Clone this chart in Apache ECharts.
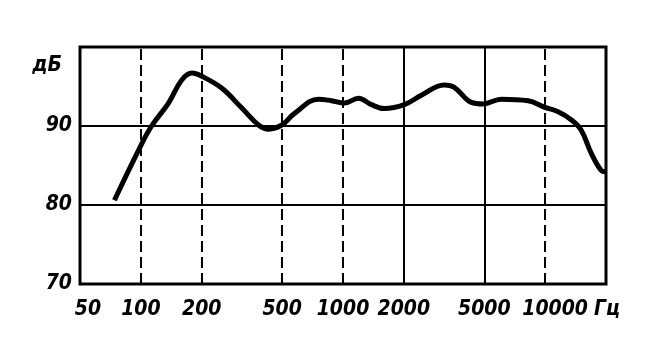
<!DOCTYPE html>
<html><head><meta charset="utf-8">
<script src="https://cdn.jsdelivr.net/npm/echarts@6/dist/echarts.min.js"></script>
<style>html,body{margin:0;padding:0;background:#fff}#c{width:656px;height:350px}</style>
</head><body><div id="c"></div>
<script>
// Frequency response (Hz, dB)
const freqs = [74, 99, 113, 137, 159, 179, 200, 251, 315, 383, 429, 497, 576, 757, 877, 1017, 1193, 1382, 1603, 2011, 2443, 3171, 3553, 4311, 4942, 6063, 8243, 9886, 11590, 13440, 15060, 16870, 18900, 20000];
const levels = [80.6, 87.3, 90.0, 92.9, 95.8, 96.7, 96.3, 94.8, 92.3, 90.1, 89.6, 90.1, 91.6, 93.4, 93.2, 92.9, 93.5, 92.7, 92.2, 92.7, 93.9, 95.2, 94.9, 93.0, 92.8, 93.4, 93.2, 92.4, 91.8, 90.8, 89.5, 86.6, 84.4, 84.2];
const xTicks = [50, 100, 200, 500, 1000, 2000, 5000, 10000];
const dashedGridFreqs = [100, 200, 500, 1000, 10000];
const solidGridFreqs = [2000, 5000];
const yTicks = [70, 80, 90];
const xUnit = 'Гц';
const yUnit = 'дБ';

const FONT = "'Liberation Sans Narrow', 'DejaVu Sans Condensed', sans-serif";
const labelStyle = {color: '#000', fontFamily: FONT, fontWeight: 'bold', fontStyle: 'italic', fontSize: 21};

const chart = echarts.init(document.getElementById('c'), null, {renderer: 'canvas'});
chart.setOption({
  animation: false,
  backgroundColor: '#fff',
  grid: {left: 80, right: 50, top: 47, bottom: 66, show: true, borderColor: '#000', borderWidth: 3, backgroundColor: 'transparent'},
  xAxis: [{
    type: 'log', logBase: 10, min: 50, max: 20000,
    axisLine: {show: false}, axisTick: {show: false}, axisLabel: {show: false}, splitLine: {show: false}
  }, {
    type: 'value', position: 'bottom',
    min: Math.log10(50), max: Math.log10(20000),
    axisLine: {show: false}, axisTick: {show: false}, splitLine: {show: false},
    axisLabel: Object.assign({
      customValues: xTicks.map(v => Math.log10(v)),
      formatter: v => {
        const n = Math.round(Math.pow(10, v));
        if (n === 50) return '{a|' + n + '}';
        if (n === 10000) return '{b|' + n + '}';
        return String(n);
      },
      rich: {
        a: Object.assign({padding: [0, 0, 0, 16]}, labelStyle),
        b: Object.assign({padding: [0, 0, 0, 20]}, labelStyle)
      },
      margin: 15
    }, labelStyle),
    name: xUnit, nameLocation: 'end', nameGap: -16,
    nameTextStyle: Object.assign({verticalAlign: 'top', padding: [15, 0, 0, 0]}, labelStyle)
  }],
  yAxis: {
    type: 'value', min: 70, max: 100, interval: 10,
    axisLine: {show: false}, axisTick: {show: false},
    axisLabel: Object.assign({formatter: v => (yTicks.indexOf(v) >= 0 ? String(v) : ''), margin: 8}, labelStyle),
    splitLine: {show: true, lineStyle: {color: '#000', width: 2}},
    name: yUnit, nameLocation: 'end', nameGap: -19,
    nameTextStyle: Object.assign({align: 'right', verticalAlign: 'middle', padding: [0, 18, 0, 0]}, labelStyle)
  },
  series: [{
    type: 'line',
    xAxisIndex: 0,
    data: freqs.map((f, i) => [f, levels[i]]),
    smooth: 0.4,
    showSymbol: false,
    lineStyle: {color: '#000', width: 5},
    markLine: {
      silent: true, symbol: 'none', animation: false,
      label: {show: false},
      lineStyle: {color: '#000', width: 2, type: [11, 5]},
      data: dashedGridFreqs.map(f => ({xAxis: f}))
        .concat(solidGridFreqs.map(f => ({xAxis: f, lineStyle: {type: 'solid', width: 2, color: '#000'}})))
    },
    z: 5
  }]
});
</script></body></html>
